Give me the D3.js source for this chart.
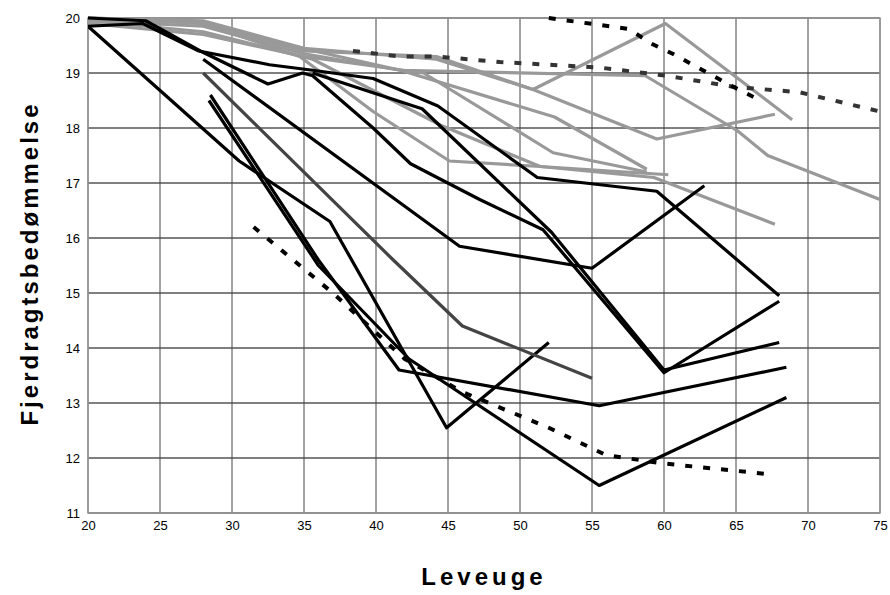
<!DOCTYPE html>
<html><head><meta charset="utf-8">
<script src="https://cdn.jsdelivr.net/npm/d3@7"></script>
<style>body{margin:0;background:#fff}</style>
</head><body>
<svg width="890" height="595"></svg>
<script>
let xTicks = [20,25,30,35,40,45,50,55,60,65,70,75];
let yTicks = [11,12,13,14,15,16,17,18,19,20];

// black solid series
let black1 = [[20,19.85],[30.5,17.4],[36.8,16.3],[44.9,12.55],[52,14.1]];
let black2 = [[28.5,18.6],[36,15.6],[41.6,13.6],[55.5,12.95],[68.5,13.65]];
let black3 = [[28.4,18.5],[36,15.5],[42.3,13.8],[55.5,11.5],[68.5,13.1]];
let black4 = [[20,19.85],[23.8,19.9],[27.7,19.4],[32.6,19.15],[35.6,19.05],[39.8,18.9],[44.3,18.4],[51.2,17.1],[59.5,16.85],[68,14.95]];
let black5 = [[20,20],[24,19.95],[27.8,19.4],[32.5,18.8],[34.9,19.0],[35.6,18.95],[39.8,18.0],[42.4,17.35],[47.2,16.7],[51.6,16.15],[60,13.55],[68,14.85]];
let black6 = [[35.6,19.0],[42.6,18.4],[43.2,18.35],[52.2,16.1],[60,13.6],[68,14.1]];
let black7 = [[28,19.25],[45.8,15.85],[55,15.45],[62.8,16.95]];
let darkGrey = [[28,19.0],[41.2,15.6],[46,14.4],[55,13.45]];

// dotted series
let dotLow = [[31.5,16.2],[37,15.0],[42,13.8],[46,13.2],[52,12.55],[56,12.05],[60,11.9],[67.5,11.7]];
let dotMid = [[38.4,19.4],[41.7,19.3],[44.2,19.3],[48.6,19.2],[55.5,19.1],[60.2,18.95],[64.8,18.75],[69.4,18.65],[75,18.3]];
let dotTop = [[52,20],[57.6,19.8],[59,19.55],[60.6,19.35],[64.8,18.75],[66.7,18.5]];

// grey series
let grey1 = [[20,20],[28,19.9],[35,19.4],[44.2,19.3],[50.9,18.7],[60.1,19.9],[68.9,18.15]];
let grey2 = [[20,20],[27,19.95],[34,19.5],[41.7,19.05],[58.7,18.95],[65.1,17.95],[67.2,17.5],[75,16.7]];
let grey3 = [[20,19.95],[28,19.85],[35,19.35],[41.7,19.05],[52.4,18.2],[58.8,17.25]];
let grey4 = [[20,19.9],[28,19.7],[35,19.3],[43.3,19.0],[52.3,17.55],[58.8,17.2]];
let grey5 = [[20,20],[28,19.95],[35,19.45],[44.2,19.25],[50.9,18.7],[59.5,17.8],[67.7,18.25]];
let grey6 = [[20,20],[28,19.9],[34.7,19.3],[39.8,18.3],[45.1,17.4],[51.4,17.3],[60.3,17.15]];
let grey7 = [[20,19.95],[28,19.75],[35.6,19.25],[44.5,18.05],[51.4,17.3],[59.3,17.1],[67.7,16.25]];

let svg = d3.select("svg");
let pLeft = 88, pRight = 880, pTop = 18, pBottom = 513;

let xScale = d3.scaleLinear().domain([20,75]).range([pLeft, pRight]);
let yScale = d3.scaleLinear().domain([11,20]).range([pBottom, pTop]);

// grid
svg.append("g").selectAll("line").data(yTicks).enter().append("line")
  .attr("x1", pLeft).attr("x2", pRight)
  .attr("y1", d => yScale(d)).attr("y2", d => yScale(d))
  .attr("stroke", "#000").attr("stroke-width", 1);
svg.append("g").selectAll("line").data(xTicks).enter().append("line")
  .attr("x1", d => xScale(d)).attr("x2", d => xScale(d))
  .attr("y1", pTop).attr("y2", pBottom)
  .attr("stroke", "#444").attr("stroke-width", 1);
svg.append("rect").attr("x", pLeft).attr("y", pTop)
  .attr("width", pRight - pLeft).attr("height", pBottom - pTop)
  .attr("fill", "none").attr("stroke", "#999").attr("stroke-width", 1.5);

let line = d3.line().x(d => xScale(d[0])).y(d => yScale(d[1]));
svg.append("clipPath").attr("id", "c").append("rect")
  .attr("x", pLeft).attr("y", pTop - 3).attr("width", pRight - pLeft).attr("height", pBottom - pTop + 6);
let plot = svg.append("g").attr("clip-path", "url(#c)");

function draw(data, color, width, dash) {
  plot.append("path").attr("d", line(data))
    .attr("fill", "none").attr("stroke", color).attr("stroke-width", width)
    .attr("stroke-linejoin", "round")
    .attr("stroke-dasharray", dash || null);
}

[grey1,grey2,grey3,grey4,grey5,grey6,grey7].forEach(s => draw(s, "#999", 3.2));
[black1,black2,black3,black4,black5,black6,black7].forEach(s => draw(s, "#000", 3.2));
draw(darkGrey, "#444", 3.2);
draw(dotLow, "#000", 4, "7,11");
draw(dotMid, "#333", 4, "7,11");
draw(dotTop, "#000", 4, "7,11");

// axes labels
let xAxis = d3.axisBottom(xScale).tickValues(xTicks).tickSize(0).tickPadding(8);
let yAxis = d3.axisLeft(yScale).tickValues(yTicks).tickSize(0).tickPadding(8);
let gx = svg.append("g").attr("transform", `translate(0, ${pBottom})`).call(xAxis);
let gy = svg.append("g").attr("transform", `translate(${pLeft}, 0)`).call(yAxis);
[gx, gy].forEach(g => {
  g.select(".domain").remove();
  g.selectAll("text").attr("font-family", "Liberation Sans, Arial").attr("font-size", 13).attr("fill", "#000");
});

svg.append("text").text("Leveuge")
  .attr("x", (pLeft + pRight) / 2).attr("y", 585)
  .attr("font-family", "Liberation Sans, Arial").attr("font-weight", "bold")
  .attr("font-size", 24).attr("letter-spacing", 4).attr("text-anchor", "middle");
svg.append("text").text("Fjerdragtsbedømmelse")
  .attr("transform", "rotate(-90)")
  .attr("x", -(pTop + pBottom) / 2 + 2).attr("y", 38)
  .attr("font-family", "Liberation Sans, Arial").attr("font-weight", "bold")
  .attr("font-size", 24).attr("letter-spacing", 3).attr("text-anchor", "middle");
</script>
</body></html>
